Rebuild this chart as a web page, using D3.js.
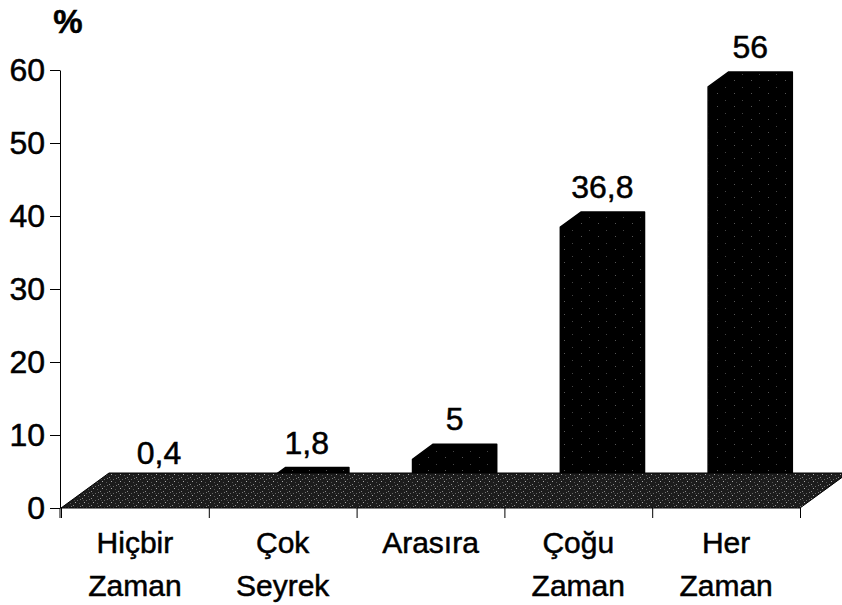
<!DOCTYPE html>
<html>
<head>
<meta charset="utf-8">
<script src="https://cdn.jsdelivr.net/npm/d3@7"></script>
<style>
  body { margin: 0; background: #fff; }
  svg text { font-family: "Liberation Sans", Arial, sans-serif; fill: #000; stroke: #000; stroke-width: 0.5px; }
</style>
</head>
<body>
<svg width="842" height="605"></svg>
<script>
// data
const categories = [["Hiçbir", "Zaman"], ["Çok", "Seyrek"], ["Arasıra"], ["Çoğu", "Zaman"], ["Her", "Zaman"]];
const values = [0.4, 1.8, 5, 36.8, 56];
const valueLabels = ["0,4", "1,8", "5", "36,8", "56"];
const yTicks = [0, 10, 20, 30, 40, 50, 60];

const svg = d3.select("svg");

const DX = 48, DY = -35;      // depth vector of the floor
const f1 = 0.35, f2 = 0.78;   // depth range of the bars

const y = d3.scaleLinear().domain([0, 60]).range([508, 70]);
const idx = d3.scaleLinear().domain([0, categories.length]).range([61, 800]);
const x = d3.scaleBand().domain(d3.range(categories.length)).range([61, 800]);

// speckle textures
const defs = svg.append("defs");
const floorPat = defs.append("pattern").attr("id", "floorTex")
  .attr("patternUnits", "userSpaceOnUse").attr("width", 9).attr("height", 7);
floorPat.append("rect").attr("width", 9).attr("height", 7).attr("fill", "#1c1c1c");
[[1, 1, "#888"], [5, 3, "#666"], [3, 5, "#aaa"], [7, 6, "#555"], [8, 2, "#777"], [2, 3, "#444"]].forEach(([a, b, c]) =>
  floorPat.append("rect").attr("x", a).attr("y", b).attr("width", 1).attr("height", 1).attr("fill", c));

const barPat = defs.append("pattern").attr("id", "barTex")
  .attr("patternUnits", "userSpaceOnUse").attr("width", 17).attr("height", 13);
barPat.append("rect").attr("width", 17).attr("height", 13).attr("fill", "#000");
[[3, 2, "#555"], [11, 9, "#444"]].forEach(([a, b, c]) =>
  barPat.append("rect").attr("x", a).attr("y", b).attr("width", 1).attr("height", 1).attr("fill", c));

// bars
const bw = x.bandwidth() * 0.43;
const barPath = (v, i) => {
  const xl = x(i) + x.bandwidth() / 2 - bw / 2 - 3, xr = xl + bw;
  const y0 = y(0), yt = y(v);
  const pts = [
    [xl + f1 * DX, y0 + f1 * DY],
    [xl + f1 * DX, yt + f1 * DY],
    [xl + f2 * DX, yt + f2 * DY],
    [xr + f2 * DX, yt + f2 * DY],
    [xr + f2 * DX, y0 + f2 * DY],
    [xr + f1 * DX, y0 + f1 * DY]
  ];
  return "M" + pts.map(p => p.join(",")).join("L") + "Z";
};

svg.append("g").selectAll("path").data(values).join("path")
  .attr("d", barPath)
  .attr("fill", "url(#barTex)")
  .attr("stroke", "#000").attr("stroke-width", 1.5).attr("stroke-linejoin", "round");

// floor
const y0 = y(0), xa = idx(0), xb = idx(categories.length);
svg.append("path")
  .attr("d", `M${xa},${y0}L${xa + DX},${y0 + DY}L${xb + DX},${y0 + DY}L${xb},${y0}Z`)
  .attr("fill", "url(#floorTex)")
  .attr("stroke", "#000").attr("stroke-width", 1);

// y axis
const gY = svg.append("g").attr("transform", `translate(${xa - 1},0)`)
  .call(d3.axisLeft(y).tickValues(yTicks).tickSize(10).tickPadding(5).tickSizeOuter(0));
gY.select(".domain").attr("stroke", "#000");
gY.selectAll("line").attr("stroke", "#000");
gY.selectAll("text").attr("font-size", 32).attr("font-family", null).attr("fill", null);
gY.append("line").attr("y1", y(0)).attr("y2", y(0) + 10).attr("stroke", "#000");

// x axis ticks at category boundaries
const gX = svg.append("g").attr("transform", `translate(0,${y0})`)
  .call(d3.axisBottom(idx).tickValues(d3.range(categories.length + 1)).tickSize(10).tickFormat(""));
gX.select(".domain").remove();
gX.selectAll("line").attr("stroke", "#000");

// category labels
svg.append("g").selectAll("text").data(categories).join("text")
  .attr("text-anchor", "middle").attr("font-size", 30)
  .each(function (lines, i) {
    d3.select(this).selectAll("tspan").data(lines).join("tspan")
      .attr("x", x(i) + x.bandwidth() / 2)
      .attr("y", (d, k) => 553 + k * 43)
      .text(d => d);
  });

// value labels
svg.append("g").selectAll("text").data(values).join("text")
  .attr("text-anchor", "middle").attr("font-size", 32)
  .attr("x", (v, i) => x(i) + x.bandwidth() / 2 - 3 + ((f1 + f2) / 2) * DX)
  .attr("y", v => y(v) + f2 * DY - 14)
  .text((v, i) => valueLabels[i]);

// unit
svg.append("text").attr("x", 68).attr("y", 33).attr("text-anchor", "middle")
  .attr("font-size", 33).attr("font-weight", "bold").text("%");
</script>
</body>
</html>
